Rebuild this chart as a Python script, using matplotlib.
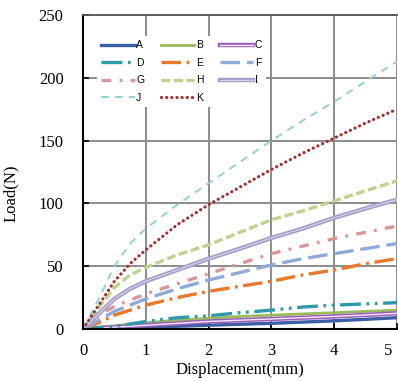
import matplotlib
matplotlib.use("Agg")
import matplotlib.pyplot as plt
import matplotlib.patheffects as pe
from matplotlib.transforms import ScaledTranslation

plt.rcParams['lines.scale_dashes'] = False

# Data
disp = [0, 0.25, 0.5, 0.75, 1, 1.5, 2, 2.5, 3, 3.5, 4, 4.5, 5]

load_a = [0, 0.4, 0.8, 1.1, 1.5, 2.2, 3.0, 3.8, 4.5, 5.5, 6.5, 7.7, 9.0]
load_b = [0, 1.2, 2.5, 3.8, 5.0, 7.0, 8.5, 10.0, 11.0, 12.0, 13.0, 14.0, 15.0]
load_c = [0, 0.8, 1.5, 2.2, 3.0, 4.5, 6.0, 7.0, 8.0, 9.0, 10.0, 11.2, 12.5]
load_d = [0, 1.0, 2.0, 4.0, 6.0, 9.0, 10.5, 13.0, 15.0, 17.5, 19.0, 20.0, 21.0]
load_e = [0, 5, 11, 15, 19, 25, 30, 34, 38, 43, 47, 52, 56]
load_f = [0, 7, 14, 19, 24, 32, 39, 45, 51, 56, 60, 64, 68]
load_g = [0, 11, 18, 23, 28, 36, 44, 52, 60, 66, 72, 77, 82]
load_h = [0, 17, 33, 43, 49, 59, 67, 77, 87, 94, 102, 110, 118]
load_i = [0, 12, 24, 32, 38, 47, 56, 64, 72.5, 80, 88.5, 96, 103]
load_j = [0, 24, 50, 68, 80, 99, 116, 133, 150, 166, 181, 197, 213]
load_k = [0, 19, 38, 52, 63, 83, 99, 113, 127, 140, 152, 164, 175]

x_ticks = [0, 1, 2, 3, 4, 5]
y_ticks = [0, 50, 100, 150, 200, 250]

fig = plt.figure(figsize=(3.98, 3.81), dpi=100)
ax = fig.add_axes([83 / 398, 1 - 329 / 381, 314 / 398, 314 / 381])


def double_line(color):
    # Excel style double line: coloured outline with a light centre
    return [pe.Stroke(linewidth=3.2, foreground=color), pe.Normal()]


la, = ax.plot(disp, load_a, color='#3b5ea6', lw=2.4, label='A')
lb, = ax.plot(disp, load_b, color='#9bbb59', lw=2.0, label='B')
lc, = ax.plot(disp, load_c, color='#f4e8f8', lw=1.0, label='C',
              path_effects=double_line('#9b5fb8'))
ld, = ax.plot(disp, load_d, color='#2f9aaa', lw=2.4, label='D',
              linestyle=(0, (15, 4, 2, 4, 2, 4)))
le, = ax.plot(disp, load_e, color='#e8782a', lw=2.4, label='E',
              linestyle=(0, (14, 4, 2, 4)))
lf, = ax.plot(disp, load_f, color='#8eaadb', lw=2.4, label='F',
              linestyle=(0, (14, 5)))
lg, = ax.plot(disp, load_g, color='#d99694', lw=2.4, label='G',
              linestyle=(0, (7, 6, 2, 6)))
lh, = ax.plot(disp, load_h, color='#bcd38e', lw=2.4, label='H',
              linestyle=(0, (6.5, 2.5)))
li, = ax.plot(disp, load_i, color='#d8d4ea', lw=0.8, label='I',
              path_effects=double_line('#a59fc8'))
lj, = ax.plot(disp, load_j, color='#93cddd', lw=1.4, label='J',
              linestyle=(0, (5.5, 4.5)))
lk, = ax.plot(disp, load_k, color='#a3302e', lw=2.3, label='K',
              linestyle=(0, (0.1, 3.6)), dash_capstyle='round')

ax.set_xlim(0, 5)
ax.set_ylim(0, 250)
ax.set_xticks(x_ticks)
ax.set_yticks(y_ticks)
ax.grid(True, color='#8c8c8c', lw=1.4)
ax.set_axisbelow(True)

for side in ['left', 'bottom']:
    ax.spines[side].set_color('black')
    ax.spines[side].set_linewidth(1.5)
ax.spines['top'].set_color('#555555')
ax.spines['top'].set_linewidth(1.3)
ax.spines['right'].set_visible(False)

ax.tick_params(axis='both', direction='in', length=4, width=1.2,
               labelsize=12, pad=14)
ax.tick_params(axis='x', pad=10)
for lbl in ax.get_xticklabels() + ax.get_yticklabels():
    lbl.set_family('Liberation Serif')
# last x label sits a bit inside the edge in the original
last = ax.get_xticklabels()[-1]
last.set_transform(last.get_transform()
                   + ScaledTranslation(-9 / 100, 0, fig.dpi_scale_trans))

ax.set_xlabel('Displacement(mm)', family='Liberation Serif', fontsize=12)
ax.set_ylabel('Load(N)', family='Liberation Serif', fontsize=12)
ax.xaxis.set_label_coords(0.5, -0.104)
ax.yaxis.set_label_coords(-0.205, 0.433)

# legend is filled column by column, so reorder for row layout
handles = [la, ld, lg, lj, lb, le, lh, lk, lc, lf, li]
leg = ax.legend(handles=handles, ncol=3, loc='upper left',
                bbox_to_anchor=(97 / 398, 1 - 36 / 381),
                bbox_transform=fig.transFigure,
                prop={'family': 'Liberation Sans', 'size': 7.5},
                frameon=True, fancybox=False, framealpha=1,
                edgecolor='none', facecolor='white',
                handlelength=3.2, handletextpad=0.15,
                columnspacing=1.6, labelspacing=0.72, borderpad=0.4,
                borderaxespad=0)

fig.savefig('out.png', dpi=100)
